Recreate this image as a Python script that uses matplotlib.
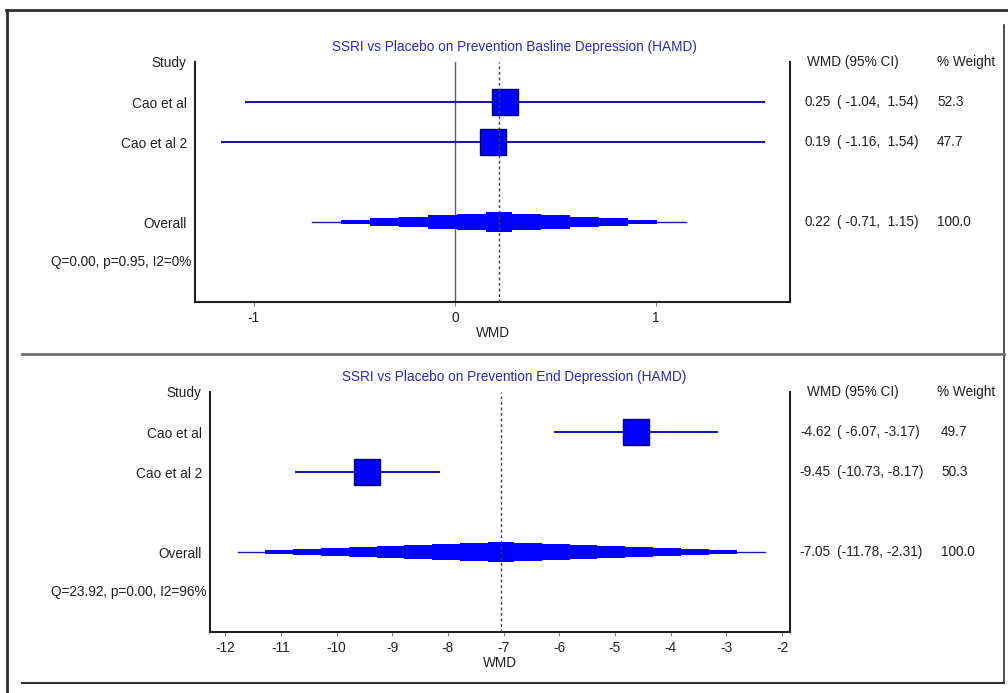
import numpy as np
import matplotlib
matplotlib.use("Agg")
import matplotlib.pyplot as plt
from matplotlib.lines import Line2D
from matplotlib.transforms import blended_transform_factory

plt.rcParams['font.family'] = ['Liberation Sans', 'DejaVu Sans']
plt.rcParams['axes.unicode_minus'] = False

# data
studies = ["Cao et al", "Cao et al 2"]

base_title = "SSRI vs Placebo on Prevention Basline Depression (HAMD)"
base_wmd = [0.25, 0.19]
base_lo = [-1.04, -1.16]
base_hi = [1.54, 1.54]
base_weight = [52.3, 47.7]
base_overall = [0.22, -0.71, 1.15]
base_het = "Q=0.00, p=0.95, I2=0%"
base_ticks = [-1, 0, 1]

end_title = "SSRI vs Placebo on Prevention End Depression (HAMD)"
end_wmd = [-4.62, -9.45]
end_lo = [-6.07, -10.73]
end_hi = [-3.17, -8.17]
end_weight = [49.7, 50.3]
end_overall = [-7.05, -11.78, -2.31]
end_het = "Q=23.92, p=0.00, I2=96%"
end_ticks = [-12, -11, -10, -9, -8, -7, -6, -5, -4, -3, -2]

W, H = 1008, 693
fig = plt.figure(figsize=(W / 100, H / 100), dpi=100)

TXT = '#202020'
LINE = '#1a1aa6'
FILL = '#0000ff'
FS = 9.8


def fx(px):
    return px / W


def fy(py):
    return 1 - py / H


def stepped_diamond(ax, mean, lo, hi, y, half_h, px_per_unit):
    # overall estimate drawn as a stair-stepped diamond
    ax.plot([lo, hi], [y, y], color=LINE, lw=1.0, zorder=3)
    c = 13 / px_per_unit
    for a, b in ((lo, mean - c), (hi, mean + c)):
        n = max(2, int(round(abs(b - a) * px_per_unit / 27)))
        edges = np.linspace(a, b, n + 1)
        for i in range(1, n):
            h = half_h * (i + 0.5) / (n + 0.5)
            x0, x1 = sorted([edges[i], edges[i + 1]])
            ax.fill_between([x0, x1], y - h, y + h, color=FILL, lw=0, zorder=3)
    ax.fill_between([mean - c, mean + c], y - half_h, y + half_h,
                    color=FILL, lw=0, zorder=3)


def panel(left, right, top, bottom, xlim, ticks, title, title_y,
          wmd, lo, hi, weight, overall, het, mean_x, ci_x, w_x, zero_line):
    ax = fig.add_axes([fx(left), fy(bottom), fx(right - left), (bottom - top) / H])
    ax.set_xlim(*xlim)
    ax.set_ylim(0, 6)
    px_per_unit = (right - left) / (xlim[1] - xlim[0])
    for s in ['left', 'bottom', 'right']:
        ax.spines[s].set_linewidth(1.5)
        ax.spines[s].set_color('#202020')
    ax.spines['top'].set_visible(False)
    ax.set_xticks(ticks)
    ax.set_xticklabels([str(t) for t in ticks])
    ax.tick_params(axis='x', length=3, width=0.8, color='#808080', pad=3.5,
                   labelsize=FS, labelcolor=TXT)
    ax.set_yticks([6, 5, 4, 2])
    ax.set_yticklabels(["Study"] + studies + ["Overall"])
    ax.tick_params(axis='y', length=0, pad=6, labelsize=FS, labelcolor=TXT)
    ax.set_xlabel("WMD", fontsize=FS, color=TXT, labelpad=0.5)

    if zero_line:
        ax.axvline(0, color='#606060', lw=1.0, zorder=1)
    ax.axvline(overall[0], color='#404040', lw=1.0, ls=(0, (2, 2)), zorder=5)

    ys = [5, 4]
    for m, l, h, y in zip(wmd, lo, hi, ys):
        ax.plot([l, h], [y, y], color=LINE, lw=1.5, zorder=3)
        ax.plot([m], [y], marker='s', ms=19, mfc=FILL, mec='#00006e',
                mew=1.0, zorder=4)
    stepped_diamond(ax, overall[0], overall[1], overall[2], 2, 0.25, px_per_unit)

    tr = blended_transform_factory(fig.transFigure, ax.transData)
    ax.text(fx(51), 1, het, transform=tr, ha='left', va='center',
            fontsize=FS, color=TXT)
    ax.text(fx(807), 6, "WMD (95% CI)", transform=tr, ha='left', va='center',
            fontsize=FS, color=TXT)
    ax.text(fx(937), 6, "% Weight", transform=tr, ha='left', va='center',
            fontsize=FS, color=TXT)
    rows = list(zip(wmd, lo, hi, weight, ys))
    rows.append((overall[0], overall[1], overall[2], 100.0, 2))
    for m, l, h, w, y in rows:
        ax.text(fx(mean_x), y, f"{m:.2f}", transform=tr, ha='right',
                va='center', fontsize=FS, color=TXT)
        ax.text(fx(ci_x), y, f"({l:6.2f},{h:6.2f})", transform=tr,
                ha='left', va='center', fontsize=FS, color=TXT)
        ax.text(fx(w_x), y, f"{w:.1f}", transform=tr, ha='left',
                va='center', fontsize=FS, color=TXT)

    fig.text(fx(514), fy(title_y), title, ha='center', va='center',
             fontsize=FS, color='#2a2ab0')
    return ax


panel(195, 790, 62, 302, (-1.293, 1.667), base_ticks, base_title, 47,
      base_wmd, base_lo, base_hi, base_weight, base_overall, base_het,
      831, 837, 937, True)
panel(210, 790, 392, 632, (-12.275, -1.856), end_ticks, end_title, 377,
      end_wmd, end_lo, end_hi, end_weight, end_overall, end_het,
      831, 837, 941, False)

# window frame lines
frame = [
    ((7, 7), (10, 693), '#303030', 2.0),
    ((6, 1008), (10, 10), '#303030', 2.0),
    ((1004, 1004), (25, 683), '#303030', 1.2),
    ((22, 1004), (683, 683), '#303030', 1.5),
    ((22, 1004), (354, 354), '#707070', 2.0),
]
for xs, ys, c, lw in frame:
    fig.add_artist(Line2D([fx(x) for x in xs], [fy(y) for y in ys],
                          color=c, lw=lw, transform=fig.transFigure))

fig.savefig("out.png", dpi=100)
